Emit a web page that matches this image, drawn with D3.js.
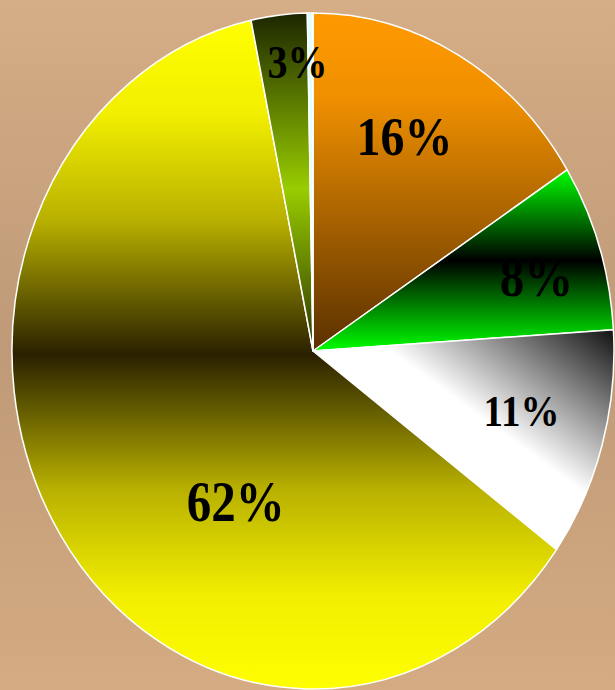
<!DOCTYPE html>
<html>
<head>
<meta charset="utf-8">
<script src="https://cdn.jsdelivr.net/npm/d3@7"></script>
<style>
  html, body { margin: 0; padding: 0; overflow: hidden; }
</style>
</head>
<body>
<div id="pie"></div>
<script>
// slice values (clockwise from 12 o'clock) and their printed labels
var values = [16, 8, 11, 61.7, 3, 0.3];
var labels = ["16%", "8%", "11%", "62%", "3%", ""];

// size of the page and the (slightly squashed) pie
var width = 615, height = 690;
var cx = 313, cy = 351, rx = 301, ry = 338;

// fills for each slice: [offset, colour] stops, plus gradient direction
var fills = [
    {dir: [0, 0, 0, 1], stops: [[0, "#ff9900"], [0.25, "#f09000"], [1, "#5a3000"]]},
    {dir: [0, 0, 0, 1], stops: [[0, "#00ff00"], [0.5, "#000000"], [1, "#00ff00"]]},
    {dir: [1, 0, 0, 1], stops: [[0, "#111111"], [0.42, "#ffffff"], [1, "#ffffff"]]},
    {dir: [0, 0, 0, 1], stops: [[0, "#ffff00"], [0.14, "#f2ee00"], [0.3, "#b8b000"],
                                [0.42, "#625a00"], [0.5, "#2a2000"], [0.58, "#625a00"],
                                [0.7, "#b8b000"], [0.86, "#f2ee00"], [1, "#ffff00"]]},
    {dir: [0, 0, 0, 1], stops: [[0, "#1c2600"], [0.52, "#99cc00"], [1, "#2a3300"]]},
    {dir: [0, 0, 0, 1], stops: [[0, "#e0ffff"], [1, "#e0ffff"]]}
];

// where each label sits: fraction of radius, angle shift (deg), font size
var labelLayout = [
    {r: 0.704, da: -3.2, size: 48},
    {r: 0.774, da: 1.5, size: 49},
    {r: 0.715, da: -1.8, size: 39},
    {r: 0.516, da: -27.2, size: 49},
    {r: 0.855, da: 3.0, size: 40},
    {r: 0.5, da: 0, size: 10}
];

var svg = d3.select("#pie")
    .append("svg")
        .attr("width", width)
        .attr("height", height);

var defs = svg.append("defs");

// background: tan, a bit darker across the middle
var bg = defs.append("linearGradient")
    .attr("id", "bg")
    .attr("x1", 0).attr("y1", 0).attr("x2", 0).attr("y2", 1);
bg.append("stop").attr("offset", 0).attr("stop-color", "#d5ad86");
bg.append("stop").attr("offset", 0.5).attr("stop-color", "#bf9a78");
bg.append("stop").attr("offset", 1).attr("stop-color", "#d4ab82");

svg.append("rect")
    .attr("width", width)
    .attr("height", height)
    .attr("fill", "url(#bg)");

fills.forEach(function(f, i) {
    var g = defs.append("linearGradient")
        .attr("id", "slice" + i)
        .attr("x1", f.dir[0]).attr("y1", f.dir[1])
        .attr("x2", f.dir[2]).attr("y2", f.dir[3]);
    f.stops.forEach(function(s) {
        g.append("stop").attr("offset", s[0]).attr("stop-color", s[1]);
    });
});

var pie = d3.pie().sort(null).value(d => d);
var arcs = pie(values);

var arc = d3.arc().innerRadius(0).outerRadius(rx);

// draw a circle of radius rx, then stretch it vertically into the ellipse
var g = svg.append("g")
    .attr("transform", "translate(" + cx + "," + cy + ") scale(1," + (ry / rx) + ")");

g.selectAll("path")
    .data(arcs)
    .enter()
    .append("path")
    .attr("d", arc)
    .attr("fill", (d, i) => "url(#slice" + i + ")")
    .attr("stroke", "#ffffff")
    .attr("stroke-width", 1.5)
    .attr("stroke-linejoin", "round")
    .attr("vector-effect", "non-scaling-stroke");

// labels
var rad = Math.PI / 180;
svg.append("g")
    .selectAll("text")
    .data(arcs)
    .enter()
    .append("text")
    .attr("transform", function(d, i) {
        var L = labelLayout[i];
        var a = (d.startAngle + d.endAngle) / 2 + L.da * rad;
        var x = cx + L.r * rx * Math.sin(a);
        var y = cy - L.r * ry * Math.cos(a);
        return "translate(" + x + "," + y + ") scale(1,1.15)";
    })
    .attr("dy", "0.34em")
    .attr("text-anchor", "middle")
    .attr("font-family", "'Liberation Serif', 'Times New Roman', serif")
    .attr("font-weight", "bold")
    .attr("font-size", (d, i) => labelLayout[i].size + "px")
    .attr("fill", "#000000")
    .text((d, i) => labels[i]);
</script>
</body>
</html>
